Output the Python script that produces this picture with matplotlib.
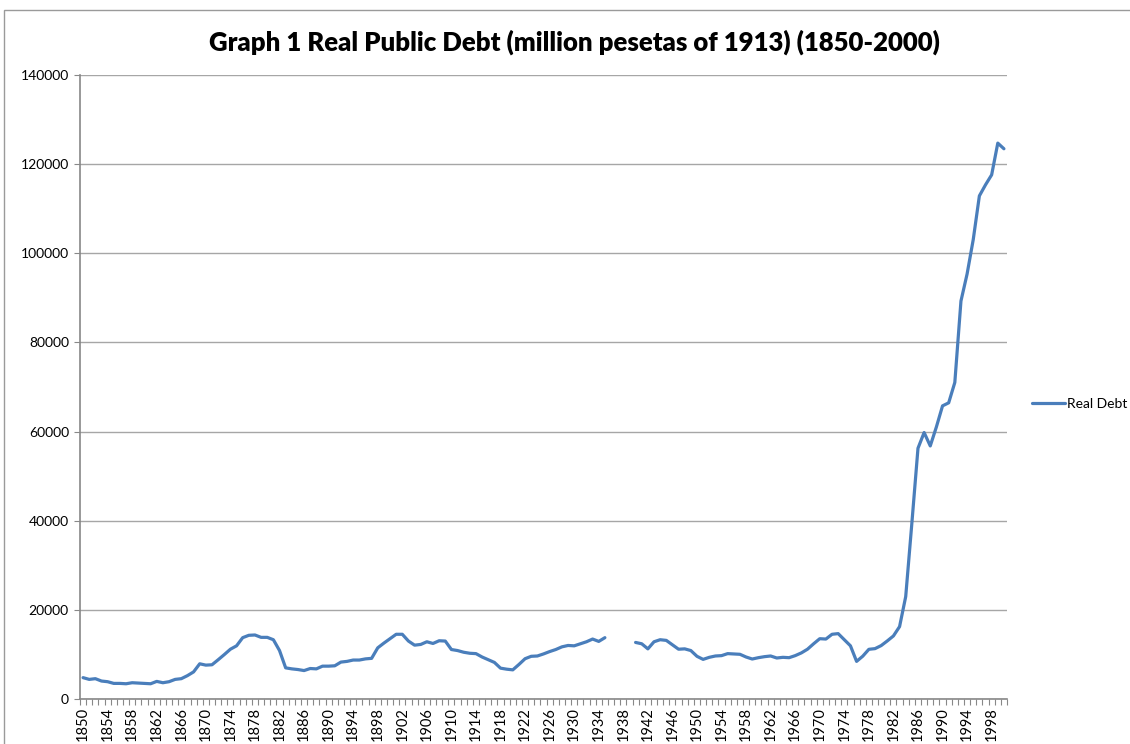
import matplotlib.pyplot as plt
import matplotlib.patches as patches
import numpy as np

# Real public debt, million pesetas of 1913 (no data 1936-1939)
years = list(range(1850, 2001))
real_debt = [
    4790, 4400, 4560, 4030, 3880, 3500, 3500, 3420, 3650, 3570,      # 1850-1859
    3500, 3420, 3950, 3650, 3880, 4400, 4560, 5240, 6080, 7900,      # 1860-1869
    7600, 7680, 8800, 9960, 11170, 11930, 13760, 14290, 14360, 13830,  # 1870-1879
    13830, 13300, 10870, 6990, 6760, 6610, 6380, 6840, 6760, 7370,   # 1880-1889
    7370, 7450, 8280, 8440, 8740, 8740, 9000, 9120, 11480, 12540,    # 1890-1899
    13530, 14520, 14520, 13000, 12080, 12240, 12840, 12460, 13070, 13000,  # 1900-1909
    11100, 10870, 10490, 10260, 10180, 9420, 8820, 8210, 6920, 6690,  # 1910-1919
    6540, 7750, 9040, 9580, 9650, 10110, 10640, 11100, 11700, 12010,  # 1920-1929
    11930, 12390, 12840, 13450, 12920, 13760, None, None, None, None,  # 1930-1939
    12690, 12390, 11250, 12840, 13300, 13150, 12160, 11170, 11250, 10870,  # 1940-1949
    9580, 8890, 9350, 9650, 9730, 10180, 10110, 10030, 9420, 8970,   # 1950-1959
    9270, 9500, 9650, 9200, 9350, 9270, 9730, 10340, 11170, 12390,   # 1960-1969
    13530, 13450, 14520, 14670, 13300, 11930, 8440, 9600, 11150, 11300,  # 1970-1979
    11980, 13030, 14150, 16240, 22970, 39400, 56260, 59780, 56780, 61050,  # 1980-1989
    65770, 66450, 71020, 89290, 95360, 103070, 112880, 115360, 117600, 124720,  # 1990-1999
    123450,                                                          # 2000
]
series_label = "Real Debt"
title = "Graph 1 Real Public Debt (million pesetas of 1913) (1850-2000)"
y_ticks = list(range(0, 140001, 20000))

plt.rcParams['font.family'] = ['Lato', 'DejaVu Sans']

values = np.array([np.nan if v is None else v for v in real_debt], dtype=float)
pos = np.arange(len(years))

fig = plt.figure(figsize=(11.3, 7.44), dpi=100)
ax = fig.add_axes([80 / 1130, 1 - 699 / 744, 927 / 1130, 624 / 744])

ax.plot(pos, values, color="#4A7EBB", lw=2.3, label=series_label,
        solid_joinstyle="round", solid_capstyle="round")

ax.set_xlim(-0.5, len(years) - 0.5)
ax.set_ylim(0, 140000)
ax.set_yticks(y_ticks)
ax.set_yticklabels([str(v) for v in y_ticks])
ax.yaxis.grid(True, color="#a6a6a6", lw=1)
ax.set_axisbelow(True)

label_pos = pos[::4]
ax.set_xticks(label_pos)
ax.set_xticklabels([str(years[i]) for i in label_pos], rotation=90)
ax.set_xticks(np.arange(-0.5, len(years)), minor=True)
ax.tick_params(axis="x", which="major", length=0, pad=6, labelsize=10.5)
ax.tick_params(axis="x", which="minor", length=4, width=0.8, color="#888888", direction="out")
ax.tick_params(axis="y", length=4, width=0.8, color="#888888", pad=4, labelsize=10)

for side in ["top", "right"]:
    ax.spines[side].set_visible(False)
for side in ["left", "bottom"]:
    ax.spines[side].set_color("#888888")
    ax.spines[side].set_linewidth(1.2)

fig.text(574 / 1130, 1 - 42 / 744, title, ha="center", va="center",
         fontsize=18.5, fontweight="heavy")

fig.legend(loc="center left", bbox_to_anchor=(1019 / 1130, 1 - 404 / 744),
           frameon=False, fontsize=10, handlelength=2.4, handletextpad=0.15)

# chart area border (top and left edges visible in the reference)
fig.patches.append(patches.Rectangle((4 / 1130, -0.1), 1.2, 1.1 - 10 / 744,
                                     transform=fig.transFigure, fill=False,
                                     edgecolor="#9a9a9a", lw=1))

fig.savefig("out.png", dpi=100)
